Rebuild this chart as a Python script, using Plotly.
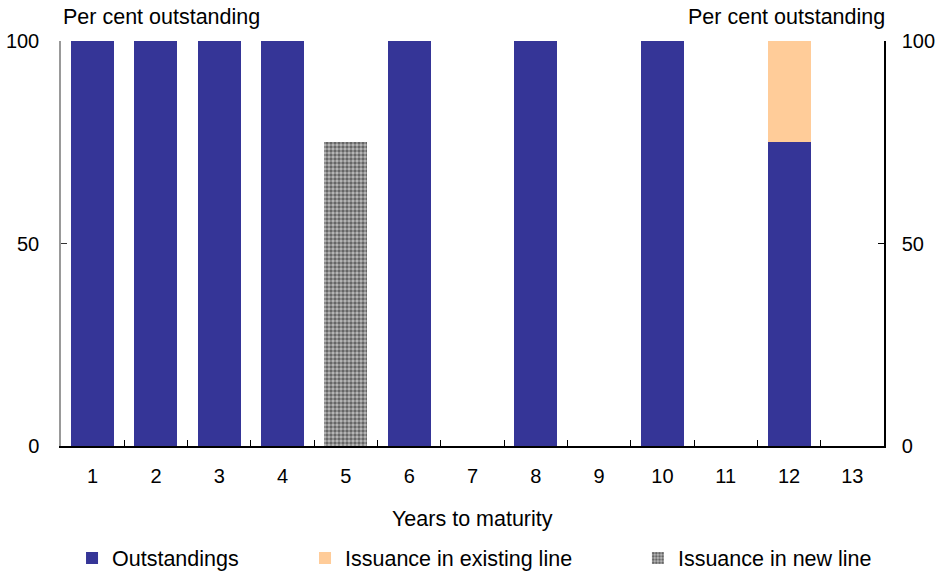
import plotly.graph_objects as go

categories = [str(i) for i in range(1, 14)]
outstandings = [100, 100, 100, 100, None, 100, None, 100, None, 100, None, 75, None]
existing_line = [None] * 11 + [25, None]
new_line = [None, None, None, None, 75] + [None] * 8
y_ticks = [0, 50, 100]

FONT = "Liberation Sans, Arial, sans-serif"
TXT = 21.5
TICK = 20
fig = go.Figure()
fig.add_trace(go.Bar(x=categories, y=outstandings, name="Outstandings", legend="legend",
                     marker=dict(color="#353597", line=dict(width=0))))
fig.add_trace(go.Bar(x=categories, y=existing_line, name="Issuance in existing line",
                     legend="legend2",
                     marker=dict(color="#FFCC99", line=dict(width=0))))
fig.add_trace(go.Bar(x=categories, y=new_line, name="Issuance in new line", legend="legend3",
                     marker=dict(color="#a0a0a0", line=dict(width=0),
                                 pattern=dict(shape=".", fgcolor="#101010", bgcolor="#bdbdbd",
                                              size=4, solidity=0.6))))
fig.add_trace(go.Scatter(x=[categories[0]], y=[None], yaxis="y2", showlegend=False,
                         hoverinfo="skip", mode="markers"))

leg_common = dict(orientation="h", xanchor="left", y=-0.2765, yanchor="middle",
                  itemwidth=30, font=dict(size=TXT), bgcolor="rgba(0,0,0,0)")

fig.update_layout(
    width=939, height=574,
    barmode="stack", bargap=0.32,
    plot_bgcolor="white", paper_bgcolor="white",
    font=dict(family=FONT, size=TXT, color="black"),
    margin=dict(l=61, r=55, t=41, b=128, autoexpand=False),
    xaxis=dict(type="category", categoryorder="array", categoryarray=categories,
               range=[-0.5, len(categories) - 0.5],
               showline=True, linecolor="black", linewidth=1.5,
               ticks="inside", tickson="boundaries", ticklen=6, tickcolor="black",
               showgrid=False, tickfont=dict(size=TICK), ticklabelstandoff=11),
    yaxis=dict(range=[0, 100], tickvals=y_ticks, showline=True, linecolor="#999999",
               linewidth=1.5, ticks="inside", ticklen=6, tickcolor="#333333",
               showgrid=False, zeroline=False, tickfont=dict(size=TICK),
               ticklabelstandoff=16),
    yaxis2=dict(range=[0, 100], tickvals=y_ticks, overlaying="y", side="right",
                showline=True, linecolor="black", linewidth=1.5, ticks="inside",
                ticklen=6, tickcolor="black", showgrid=False, zeroline=False,
                tickfont=dict(size=TICK), ticklabelstandoff=12),
    legend=dict(x=0.0134, **leg_common),
    legend2=dict(x=0.2965, **leg_common),
    legend3=dict(x=0.701, **leg_common),
    annotations=[
        dict(text="Per cent outstanding", xref="paper", yref="paper", x=0, y=1,
             xanchor="left", yanchor="bottom", showarrow=False, xshift=0, yshift=10),
        dict(text="Per cent outstanding", xref="paper", yref="paper", x=1, y=1,
             xanchor="right", yanchor="bottom", showarrow=False, xshift=3, yshift=10),
        dict(text="Years to maturity", xref="paper", yref="paper", x=0.5, y=-0.18,
             xanchor="center", yanchor="middle", showarrow=False),
    ],
)

fig.write_html("out.html", config={"displayModeBar": False},
               post_script="document.body.style.margin='0';document.body.style.overflow='hidden';")
